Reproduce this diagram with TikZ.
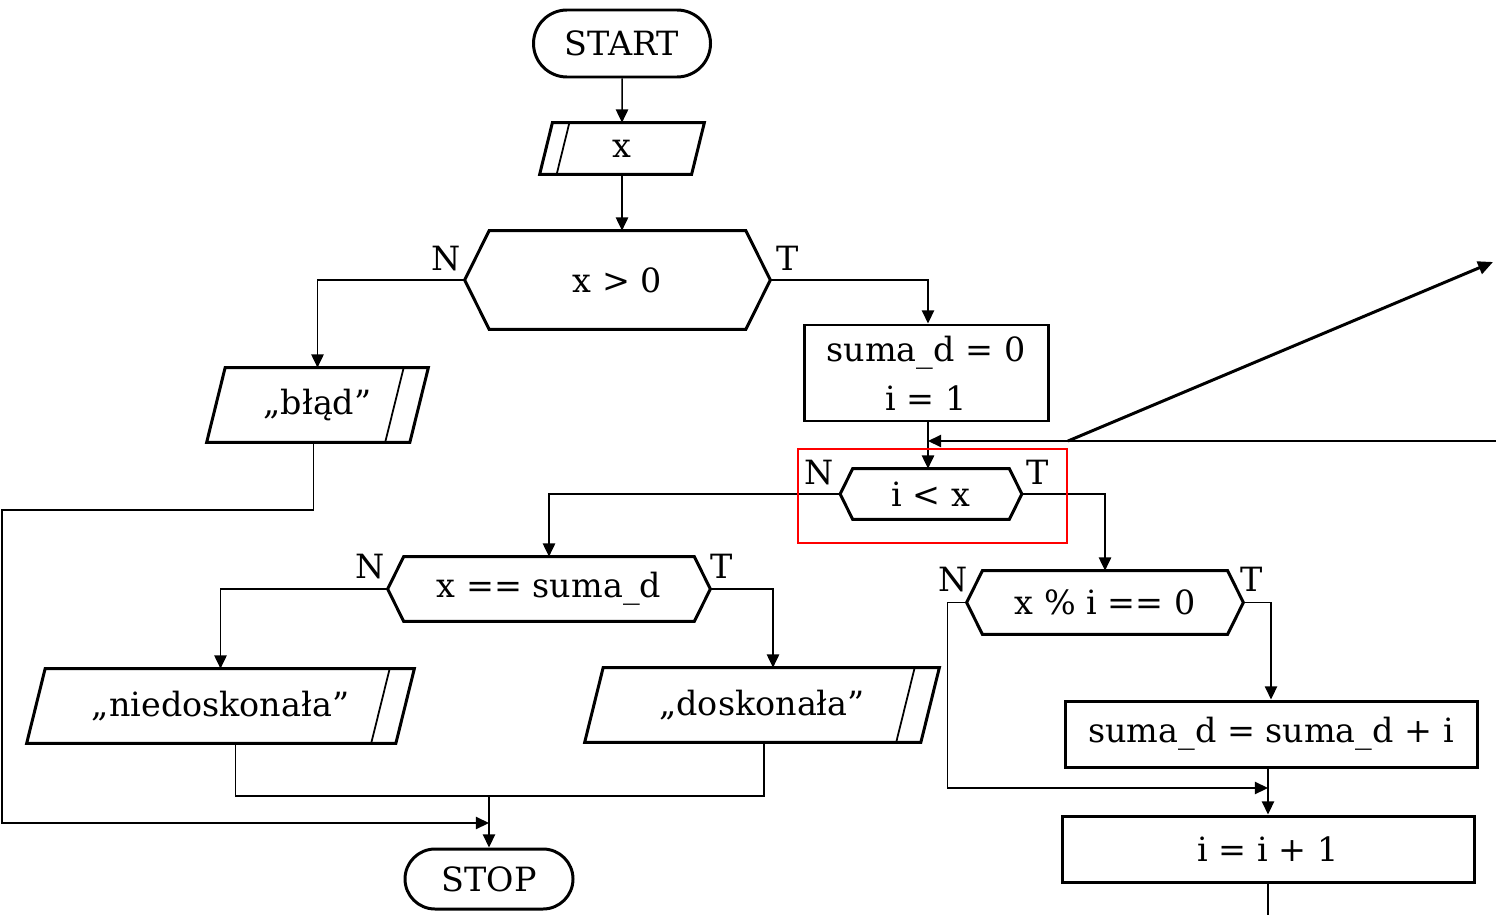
\documentclass[tikz,border=0pt]{standalone}
\usepackage{fontspec}
\setmainfont{DejaVu Serif}
\usetikzlibrary{arrows.meta, shapes.misc, calc}

\def\u{0.02cm}
\tikzset{
  every node/.style={font=\fontsize{19}{28}\selectfont},
  blok/.style={draw, line width=1.7pt, inner sep=0pt, align=center},
  term/.style={blok, rounded rectangle},
  ghost/.style={inner sep=0pt, align=center},
  obrys/.style={line width=1.7pt, line join=miter},
  cienka/.style={line width=1pt},
  linia/.style={line width=0.85pt},
  link/.style={linia, -{Triangle[length=7.5pt, width=7pt]}},
  wskaz/.style={line width=1.7pt, -{Triangle[length=8.5pt, width=7.5pt]}},
  ramka/.style={draw=red, line width=1.5pt},
  etyk/.style={inner sep=0pt}
}

% hexagon (decision): name, x, y, width, height, text
\newcommand{\hexa}[6]{%
  \node[ghost, minimum width=#4*\u, minimum height=#5*\u] (#1) at (#2,#3) {#6};
  \draw[obrys] (#1.west) -- ($(#1.north west)+(#5/4,0)$) -- ($(#1.north east)-(#5/4,0)$)
    -- (#1.east) -- ($(#1.south east)-(#5/4,0)$) -- ($(#1.south west)+(#5/4,0)$) -- cycle;
}
% input parallelogram, inner line on the left
\newcommand{\wejscie}[6]{%
  \node[ghost, minimum width=#4*\u, minimum height=#5*\u] (#1) at (#2,#3) {#6};
  \draw[obrys] ($(#1.north west)+(#5/4,0)$) -- (#1.north east) -- ($(#1.south east)-(#5/4,0)$)
    -- (#1.south west) -- cycle;
  \draw[cienka] ($(#1.north west)+(#5/4+#5/3,0)$) -- ($(#1.south west)+(#5/3,0)$);
}
% output parallelogram, inner line on the right
\newcommand{\wyjscie}[6]{%
  \node[ghost, minimum width=#4*\u, minimum height=#5*\u] (#1) at (#2,#3) {#6};
  \draw[obrys] ($(#1.north west)+(#5/4,0)$) -- (#1.north east) -- ($(#1.south east)-(#5/4,0)$)
    -- (#1.south west) -- cycle;
  \draw[cienka] ($(#1.north east)-(#5/3,0)$) -- ($(#1.south east)-(#5/4+#5/3,0)$);
}

\begin{document}
\begin{tikzpicture}[x=0.02cm, y=-0.02cm]
  \useasboundingbox (0,0) rectangle (1496,915);

  % blocks
  \node[term, minimum width=177*\u, minimum height=67*\u] (start) at (622,43.5) {START};
  \wejscie{inx}{622}{148.5}{164}{51}{x}
  \hexa{xgt}{617.5}{280}{305}{98}{x > 0}
  \node[blok, minimum width=244*\u, minimum height=96*\u] (init) at (926,373) {suma\_d = 0\\i = 1};
  \wyjscie{blad}{317.5}{405}{221}{74}{„błąd”}
  \hexa{iltx}{931}{494}{181}{50}{i < x}
  \hexa{eq}{549}{589}{322}{64}{x == suma\_d}
  \hexa{mod}{1105}{602.5}{276}{63}{x \% i == 0}
  \node[blok, minimum width=412*\u, minimum height=66*\u] (sum) at (1271,734) {suma\_d = suma\_d + i};
  \node[blok, minimum width=412*\u, minimum height=66*\u] (inc) at (1268,849) {i = i + 1};
  \wyjscie{nied}{220.5}{706}{387}{74}{„niedoskonała”}
  \wyjscie{dosk}{762}{705}{354}{74}{„doskonała”}
  \node[term, minimum width=168*\u, minimum height=60*\u] (stop) at (489,879) {STOP};

  % labels N / T
  \node[etyk, anchor=base east] (xgtN) at ($(xgt.west)+(-4,-9)$) {N};
  \node[etyk, anchor=base west] (xgtT) at ($(xgt.east)+(6,-9)$) {T};
  \node[etyk, anchor=base east] (iltxN) at ($(iltx.west)+(-6,-10)$) {N};
  \node[etyk, anchor=base west] (iltxT) at ($(iltx.east)+(4,-10)$) {T};
  \node[etyk, anchor=base east] (eqN) at ($(eq.west)+(-3,-11)$) {N};
  \node[etyk, anchor=base west] (eqT) at ($(eq.east)+(0,-11)$) {T};
  \node[etyk, anchor=base east] (modN) at ($(mod.west)+(1,-11)$) {N};
  \node[etyk, anchor=base west] (modT) at ($(mod.east)+(-3,-11)$) {T};

  % free ends
  \coordinate (zbieg) at (489,823);
  \coordinate (scal) at (489,796);
  \coordinate (zbieg2) at (1268,788);
  \coordinate (powrot) at (1496,441);
  \coordinate (dol) at (1268,915);
  \coordinate (strzA) at (1068,441);
  \coordinate (strzB) at (1493,262);

  % connectors
  \draw[link] (start) -- (inx);
  \draw[link] (inx.south) -- (inx.south |- xgt.north);
  \draw[link] (xgt.west) -| (blad.north);
  \draw[link] (xgt.east) -| ($(init.north)+(2,0)$);
  \draw[link] ($(blad.south)+(-4,0)$) |- (2,510) |- (zbieg);
  \draw[link] ($(init.south)+(2,0)$) -- ($(init.south |- iltx.north)+(2,0)$);
  \draw[link] (powrot) -- ($(powrot -| init.south)+(2,0)$);
  \draw[link] (iltx.west) -| (eq.north);
  \draw[link] (iltx.east) -| (mod.north);
  \draw[link] (eq.west) -| (nied.north);
  \draw[link] (eq.east) -| ($(dosk.north)+(11,0)$);
  \draw[linia] ($(nied.south)+(15,0)$) |- (scal) -| ($(dosk.south)+(2,0)$);
  \draw[link] (scal) -- (stop.north);
  \draw[link] (mod.east) -| (sum.north);
  \draw[link] (mod.west) -- ++(-19,0) |- (zbieg2);
  \draw[link] (inc.north |- sum.south) -- (inc.north);
  \draw[linia] (inc.south) -- (dol);

  % annotation
  \draw[ramka] (798,449) rectangle (1067,543);
  \draw[wskaz] (strzA) -- (strzB);
\end{tikzpicture}
\end{document}
